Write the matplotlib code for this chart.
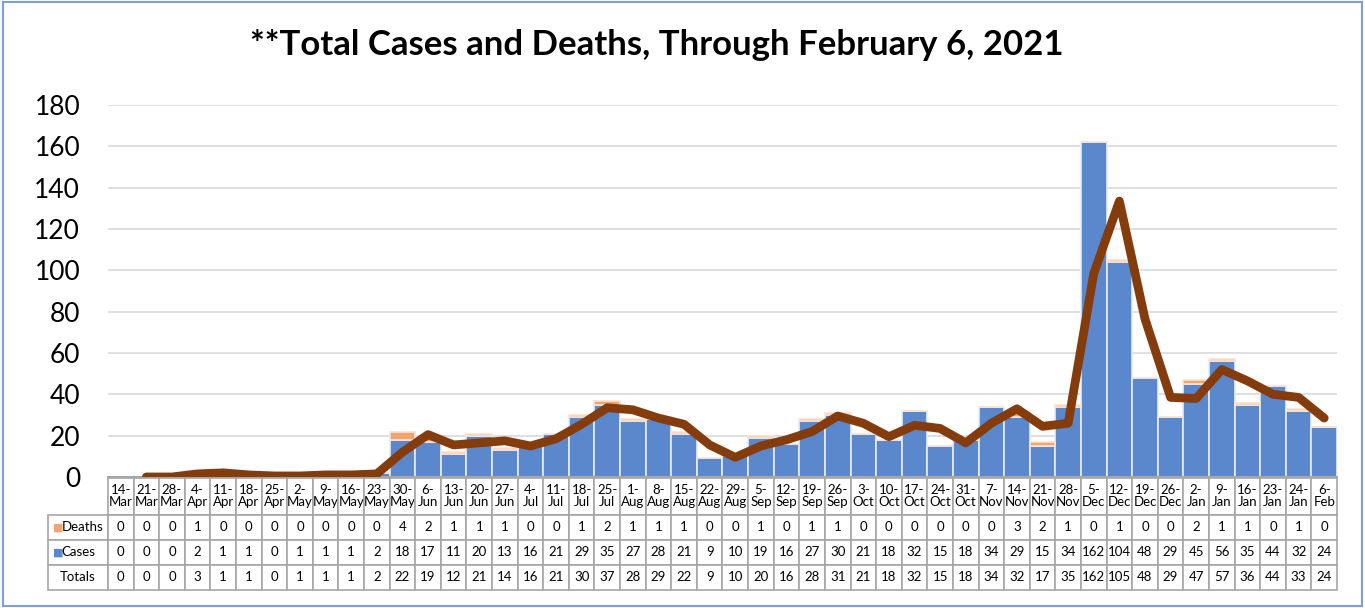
import matplotlib
matplotlib.use("Agg")
import matplotlib.pyplot as plt
from matplotlib.patches import Rectangle

weeks = ["14-\nMar", "21-\nMar", "28-\nMar", "4-\nApr", "11-\nApr", "18-\nApr", "25-\nApr",
         "2-\nMay", "9-\nMay", "16-\nMay", "23-\nMay", "30-\nMay", "6-\nJun", "13-\nJun",
         "20-\nJun", "27-\nJun", "4-\nJul", "11-\nJul", "18-\nJul", "25-\nJul", "1-\nAug",
         "8-\nAug", "15-\nAug", "22-\nAug", "29-\nAug", "5-\nSep", "12-\nSep", "19-\nSep",
         "26-\nSep", "3-\nOct", "10-\nOct", "17-\nOct", "24-\nOct", "31-\nOct", "7-\nNov",
         "14-\nNov", "21-\nNov", "28-\nNov", "5-\nDec", "12-\nDec", "19-\nDec", "26-\nDec",
         "2-\nJan", "9-\nJan", "16-\nJan", "23-\nJan", "24-\nJan", "6-\nFeb"]

deaths = [0, 0, 0, 1, 0, 0, 0, 0, 0, 0, 0, 4, 2, 1,
          1, 1, 0, 0, 1, 2, 1, 1, 1, 0, 0, 1, 0, 1, 1, 0, 0,
          0, 0, 0, 0, 3, 2, 1, 0, 1, 0, 0, 2, 1, 1, 0, 1, 0]

cases = [0, 0, 0, 2, 1, 1, 0, 1, 1, 1, 2, 18, 17, 11,
         20, 13, 16, 21, 29, 35, 27, 28, 21, 9, 10, 19, 16, 27, 30, 21, 18,
         32, 15, 18, 34, 29, 15, 34, 162, 104, 48, 29, 45, 56, 35, 44, 32, 24]

totals = [0, 0, 0, 3, 1, 1, 0, 1, 1, 1, 2, 22, 19, 12,
          21, 14, 16, 21, 30, 37, 28, 29, 22, 9, 10, 20, 16, 28, 31, 21, 18,
          32, 15, 18, 34, 32, 17, 35, 162, 105, 48, 29, 47, 57, 36, 44, 33, 24]

# trend line (starts at the second week)
trend = [0, 0, 1.5, 2, 1, 0.5, 0.5, 1, 1, 1.5, 12, 20.5, 15.5,
         16.5, 17.5, 15, 18.5, 25.5, 33.5, 32.5, 28.5, 25.5, 15.5, 9.5, 15, 18, 22, 29.5, 26, 19.5,
         25, 23.5, 16.5, 26, 33, 24.5, 26, 98.5, 133.5, 76.5, 38.5, 38, 52, 46.5, 40, 38.5, 28.5]

plt.rcParams['font.family'] = ['Lato', 'DejaVu Sans']

fig = plt.figure(figsize=(13.65, 6.08), dpi=100)
ax = fig.add_axes([0.0791, 0.2155, 0.9004, 0.6118])

x = list(range(len(weeks)))
ax.bar(x, cases, width=1.0, color='#5B87CD', edgecolor='#E6ECF7', linewidth=1.2, zorder=2)
ax.bar(x, deaths, width=1.0, bottom=cases, color='#F2A46E', edgecolor='#FBE3D3',
       linewidth=1.2, zorder=2)
ax.plot(x[1:], trend, color='#843C0C', linewidth=6.3, solid_joinstyle='round',
        solid_capstyle='round', zorder=3)

ax.set_xlim(-0.5, len(weeks) - 0.5)
ax.set_ylim(0, 180)
ax.set_yticks(range(0, 181, 20))
ax.tick_params(axis='y', length=0, labelsize=19, pad=20)
ax.set_xticks([])
ax.grid(axis='y', color='#D9D9D9', linewidth=1.2, zorder=0)
for s in ['left', 'right', 'top']:
    ax.spines[s].set_visible(False)
ax.spines['bottom'].set_color('#A6A6A6')
ax.spines['bottom'].set_linewidth(1.5)

fig.text(0.481, 0.926, "**Total Cases and Deaths, Through February 6, 2021",
         ha='center', va='center', fontsize=25, fontweight='bold')

# data table under the axis
label_w = 60 / 1229
col_w = 1 / len(weeks)
rows = [[''] + [str(v) for v in deaths],
        [''] + [str(v) for v in cases],
        [''] + [str(v) for v in totals]]
tbl = ax.table(cellText=rows, colLabels=[''] + weeks, cellLoc='center',
               colWidths=[label_w] + [col_w] * len(weeks),
               bbox=[-label_w, -0.3038, 1 + label_w, 0.3011])
tbl.auto_set_font_size(False)
tbl.set_fontsize(9.5)
for (r, c), cell in tbl.get_celld().items():
    cell.set_edgecolor('#A6A6A6')
    cell.set_linewidth(1.2)
    cell.set_height(37 if r == 0 else 25)
    cell.PAD = 0.02
    if r == 0 and c == 0:
        cell.visible_edges = ''
    if r == 0:
        cell.get_text().set_linespacing(1.0)

row_y = [-0.1344, -0.2016, -0.2688]
ax.text(-0.0445, row_y[0], "\u25A0", color='#F2A46E', fontsize=8, transform=ax.transAxes,
        ha='left', va='center')
ax.text(-0.0378, row_y[0], "Deaths", fontsize=9.5, transform=ax.transAxes, ha='left', va='center')
ax.text(-0.0445, row_y[1], "\u25A0", color='#5B87CD', fontsize=8, transform=ax.transAxes,
        ha='left', va='center')
ax.text(-0.0378, row_y[1], "Cases", fontsize=9.5, transform=ax.transAxes, ha='left', va='center')
ax.text(-0.0244, row_y[2], "Totals", fontsize=9.5, transform=ax.transAxes, ha='center', va='center')

fig.patches.append(Rectangle((0.002, 0.004), 0.996, 0.992, transform=fig.transFigure,
                             fill=False, edgecolor='#7F9ED6', linewidth=1.5))

fig.savefig("out.png", dpi=100)
